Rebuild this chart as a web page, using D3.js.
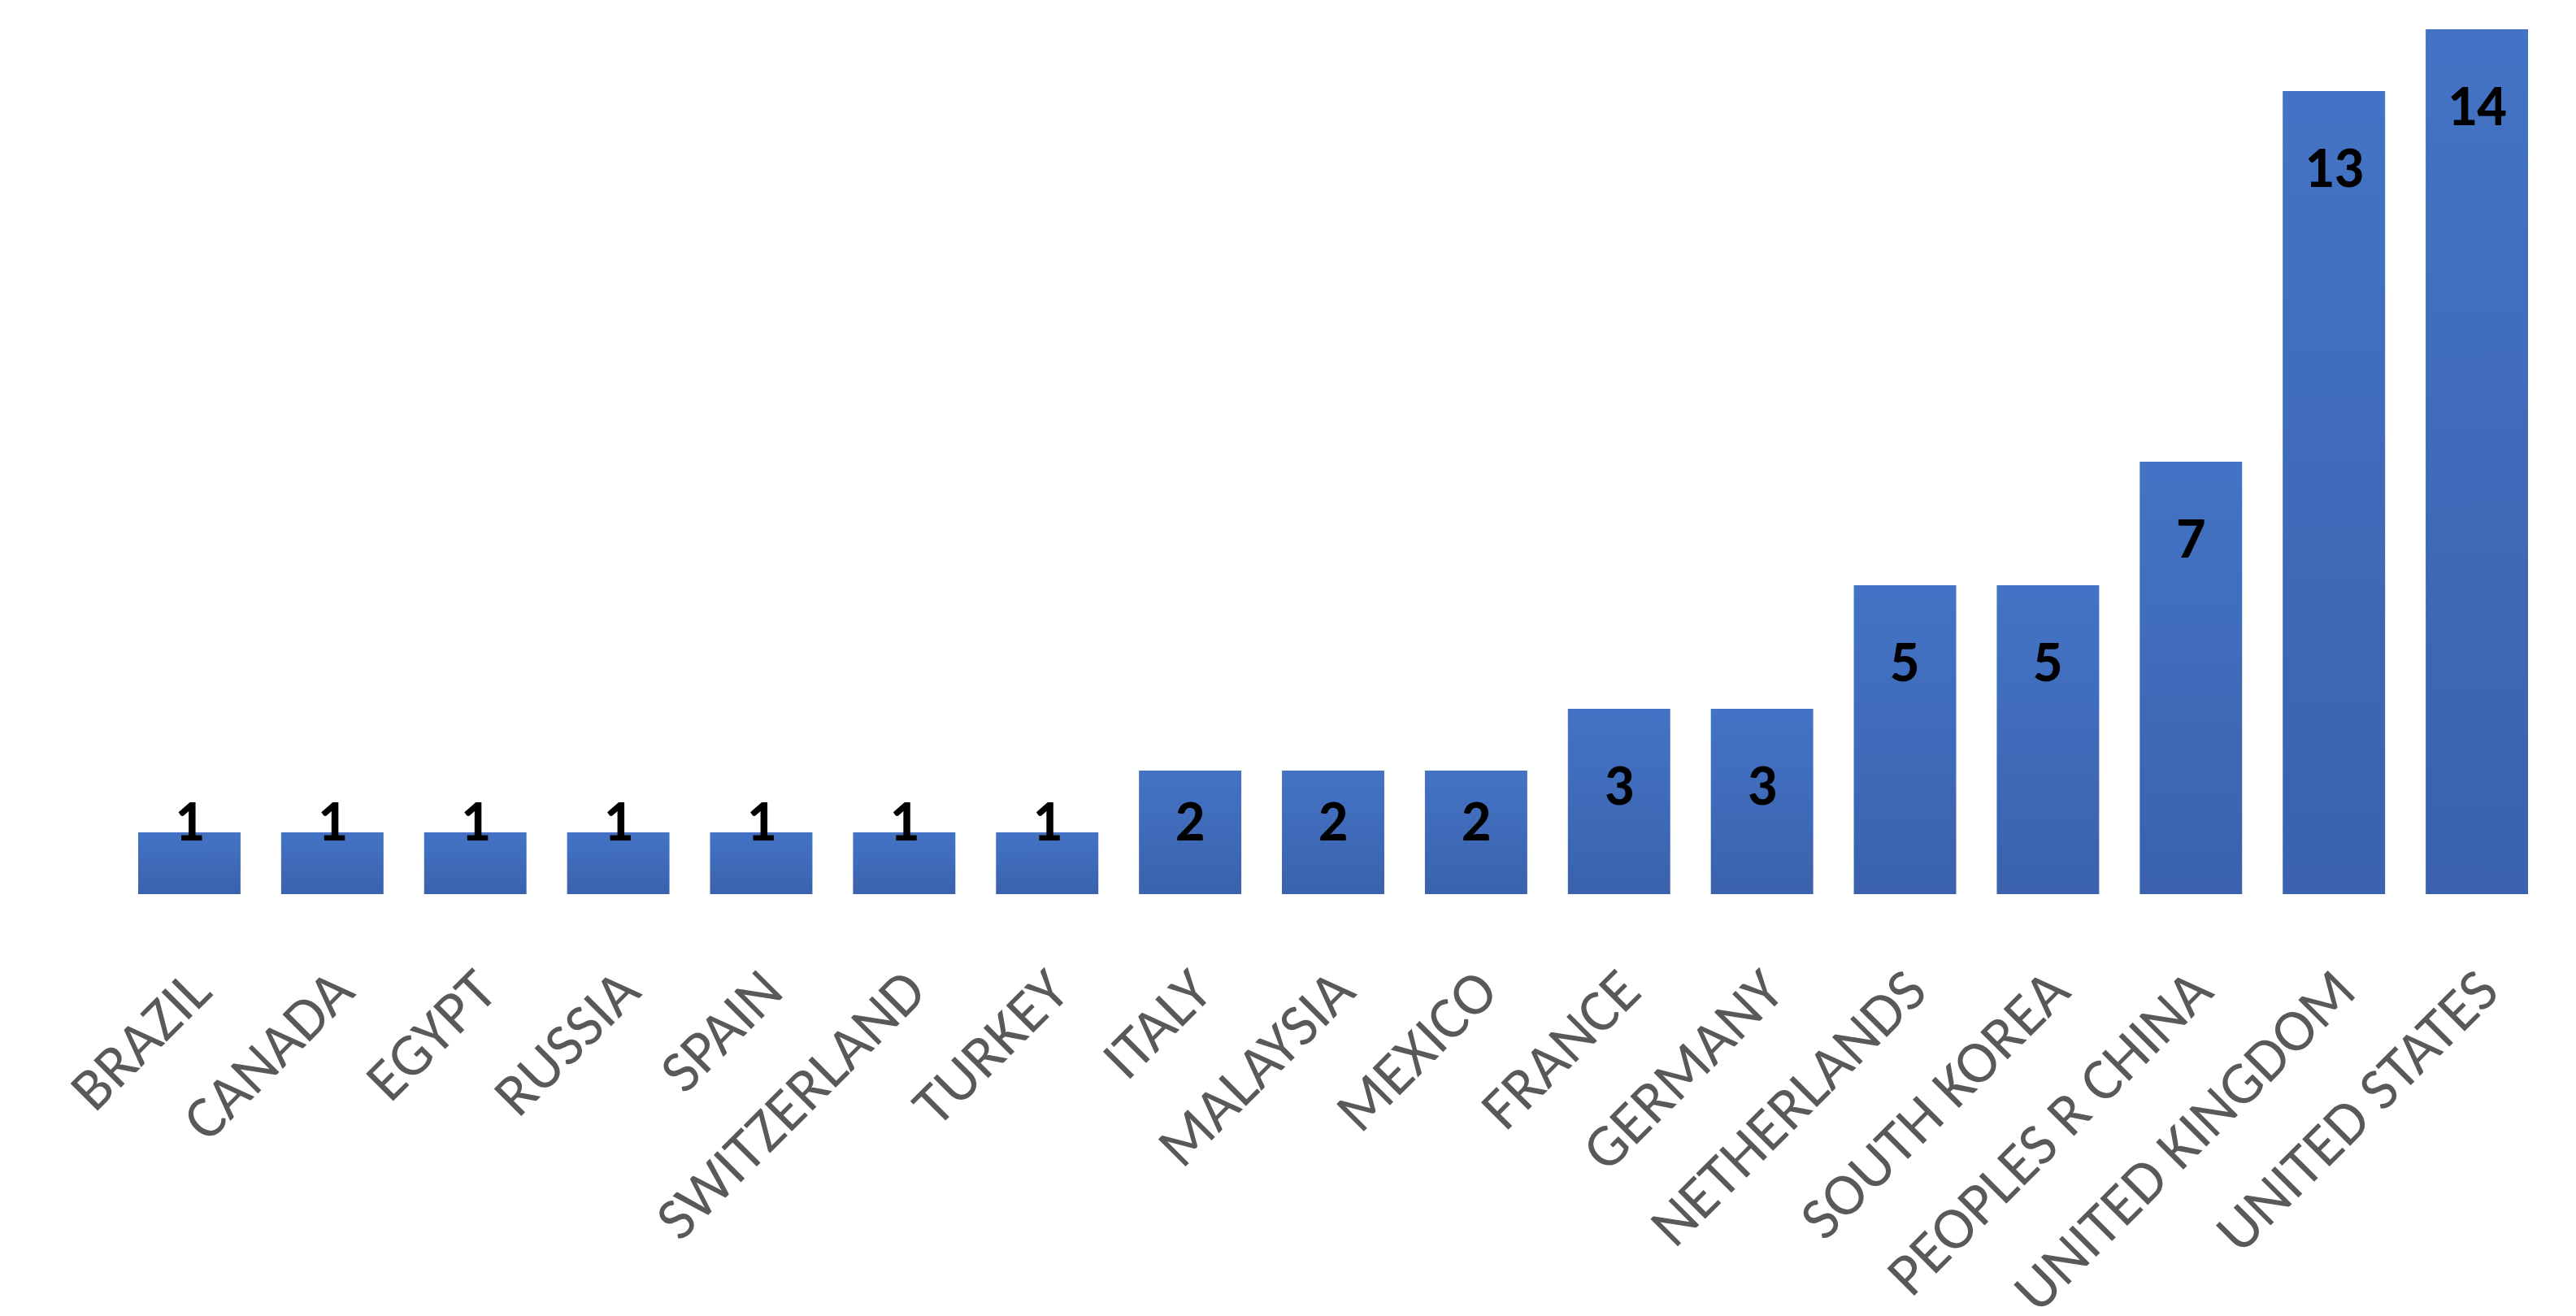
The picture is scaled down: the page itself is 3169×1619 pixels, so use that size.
<!DOCTYPE html>
<html><head><meta charset="utf-8">
<script src="https://cdn.jsdelivr.net/npm/d3@7"></script>
<style>body{margin:0;background:#fff}</style>
</head><body>
<script>
const countries = ["BRAZIL","CANADA","EGYPT","RUSSIA","SPAIN","SWITZERLAND","TURKEY","ITALY","MALAYSIA","MEXICO","FRANCE","GERMANY","NETHERLANDS","SOUTH KOREA","PEOPLES R CHINA","UNITED KINGDOM","UNITED STATES"];
const counts = [1,1,1,1,1,1,1,2,2,2,3,3,5,5,7,13,14];

const width = 3169, height = 1619, base = 1100;
const data = countries.map((c, i) => ({c, v: counts[i]}));

const svg = d3.select("body").append("svg").attr("width", width).attr("height", height);

const grad = svg.append("defs").append("linearGradient").attr("id", "g")
  .attr("x1", 0).attr("y1", 0).attr("x2", 0).attr("y2", 1);
grad.append("stop").attr("offset", "0%").attr("stop-color", "#4473c5");
grad.append("stop").attr("offset", "100%").attr("stop-color", "#3a62ad");

const x = d3.scaleBand().domain(countries).range([145, 3135]).paddingInner(0.284).paddingOuter(0.142);
const y = d3.scaleLinear().domain([0, 14]).range([base, 36]);

svg.selectAll("rect").data(data).join("rect")
  .attr("x", d => x(d.c)).attr("y", d => y(d.v))
  .attr("width", x.bandwidth()).attr("height", d => base - y(d.v))
  .attr("fill", "url(#g)");

svg.selectAll(".val").data(data).join("text")
  .attr("x", d => x(d.c) + x.bandwidth() / 2)
  .attr("y", d => Math.min(y(d.v) + 118, base - 66))
  .attr("text-anchor", "middle")
  .attr("font-family", "Carlito, 'Open Sans', sans-serif")
  .attr("font-weight", "bold").attr("font-size", 72).attr("fill", "#000")
  .text(d => d.v);

const axis = d3.axisBottom(x).tickSize(0).tickPadding(0);
const g = svg.append("g").attr("transform", `translate(0,${base + 105})`).call(axis);
g.select(".domain").remove();
g.selectAll("text")
  .attr("transform", "translate(12,0) rotate(-45)")
  .attr("dy", "0.35em")
  .style("text-anchor", "end")
  .attr("font-family", "Carlito, 'Open Sans', sans-serif")
  .attr("font-size", 74).attr("fill", "#595959");
</script>
</body></html>
